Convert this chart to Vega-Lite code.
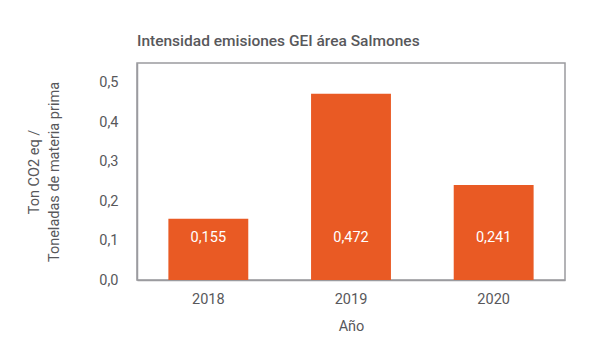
{
  "$schema": "https://vega.github.io/schema/vega-lite/v6.json",
  "width": 428,
  "height": 217,
  "autosize": {"type": "none"},
  "padding": {"left": 137, "top": 63, "right": 24, "bottom": 80},
  "background": "white",
  "config": {
    "locale": {"number": {"decimal": ",", "thousands": ".", "grouping": [3], "currency": ["$", ""]}},
    "font": "Roboto",
    "view": {"stroke": "#9b9b9f", "strokeWidth": 1.5}
  },
  "title": {
    "text": "Intensidad emisiones GEI área Salmones",
    "anchor": "start",
    "frame": "group",
    "fontSize": 15.5,
    "fontWeight": 500,
    "color": "#58585b",
    "offset": 14
  },
  "data": {
    "values": [
      {"year": "2018", "value": 0.155},
      {"year": "2019", "value": 0.472},
      {"year": "2020", "value": 0.241}
    ]
  },
  "encoding": {
    "x": {
      "field": "year",
      "type": "nominal",
      "scale": {"paddingInner": 0.44, "paddingOuter": 0.22},
      "axis": {
        "title": "Año",
        "labelAngle": 0,
        "labelFontSize": 14.5,
        "labelColor": "#58585b",
        "labelPadding": 12,
        "ticks": false,
        "domainColor": "#9b9b9f",
        "domainWidth": 1.5,
        "titleFontSize": 14.5,
        "titleFontWeight": "normal",
        "titleColor": "#58585b",
        "titlePadding": 14
      }
    }
  },
  "layer": [
    {
      "mark": {"type": "bar", "color": "#e95a24"},
      "encoding": {
        "y": {
          "field": "value",
          "type": "quantitative",
          "scale": {"domain": [0, 0.55], "nice": false},
          "axis": {
            "title": ["Ton CO2 eq /", "Toneladas de materia prima"],
            "values": [0, 0.1, 0.2, 0.3, 0.4, 0.5],
            "format": ".1f",
            "grid": false,
            "ticks": false,
            "domainColor": "#9b9b9f",
            "domainWidth": 1.5,
            "labelFontSize": 14.5,
            "labelColor": "#58585b",
            "labelPadding": 19,
            "titleFontSize": 14.5,
            "titleFontWeight": "normal",
            "titleColor": "#58585b",
            "titleLineHeight": 20,
            "titlePadding": 37
          }
        }
      }
    },
    {
      "mark": {"type": "text", "color": "white", "fontSize": 14.5, "baseline": "middle"},
      "encoding": {
        "y": {"datum": 0.107, "type": "quantitative"},
        "text": {"field": "value", "type": "quantitative", "format": ".3f"}
      }
    }
  ]
}
